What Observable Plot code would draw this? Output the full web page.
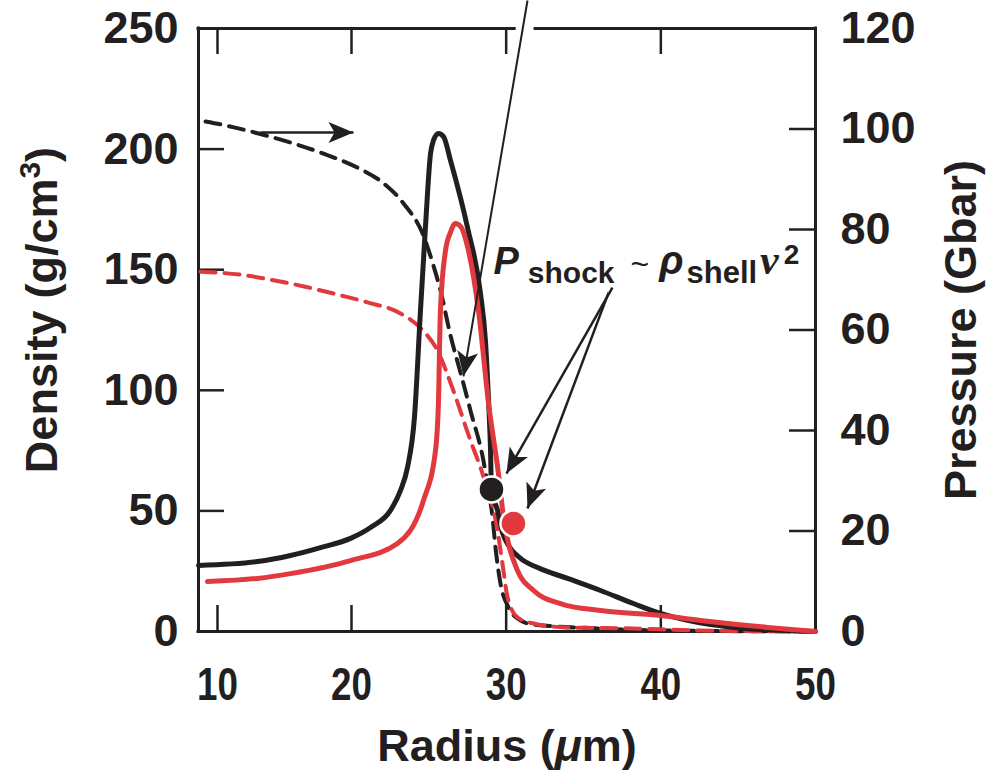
<!DOCTYPE html>
<html><head><meta charset="utf-8">
<script src="https://cdn.jsdelivr.net/npm/d3@7"></script>
<script src="https://cdn.jsdelivr.net/npm/@observablehq/plot@0.6"></script>
<style>
body{margin:0;background:#fff;}
</style></head><body><div id="chart"></div>
<script>
// ---------- data ----------
const radiusTicks = [10, 20, 30, 40, 50];
const topTicks = [10, 20, 30, 40];
const densityTicks = [0, 50, 100, 150, 200, 250];
const pressureTicks = [0, 20, 40, 60, 80, 100, 120];
const radiusBreaks = [8.6, 10, 20, 50];     // axis as drawn in the figure
const densityMax = 250, pressureMax = 120;

// Black: density (solid, left axis)
const blackDensityR = [8.6, 12.99, 15.45, 17.69, 19.93, 21.23, 22.52, 23.17, 23.62, 24.07, 24.46, 24.78, 25.11, 25.30, 25.62, 25.95, 26.40, 27.50, 28.34, 28.66, 28.86, 28.99, 29.05, 29.44, 29.76, 30.15, 30.93, 32.03, 33.97, 36.10, 38.23, 39.98, 41.72, 44.70, 50];
const blackDensityV = [27.4, 29.0, 31.5, 34.8, 38.6, 43.1, 50.2, 58.5, 68.0, 88.7, 133.1, 167.5, 198.2, 203.6, 206.5, 205.2, 195.3, 167.5, 140.1, 120.6, 95.8, 75.0, 58.9, 50.2, 41.0, 35.7, 30.3, 26.5, 22.0, 17.0, 11.6, 7.5, 4.6, 1.7, 0];
// Red: density (solid, left axis)
const redDensityR = [9.26, 12.99, 15.45, 19.93, 22.97, 24.65, 25.43, 25.62, 25.75, 26.08, 26.40, 26.72, 27.05, 27.56, 28.21, 28.86, 29.50, 29.83, 30.15, 30.73, 31.77, 33.51, 36.10, 39.98, 42.56, 46.90, 50];
const redDensityV = [20.7, 22.0, 24.0, 29.4, 36.5, 54.3, 75.0, 94.5, 133.1, 158.0, 165.5, 169.2, 168.0, 158.0, 133.1, 94.5, 65.5, 47.3, 36.5, 25.3, 17.0, 11.6, 8.7, 6.6, 4.6, 1.7, 0];
// Black: pressure (dashed, right axis, Gbar)
const blackPressureR = [9.12, 10.45, 13.21, 15.45, 17.91, 20.39, 22.07, 23.36, 24.65, 25.24, 25.75, 26.40, 27.05, 27.69, 28.53, 28.86, 29.12, 29.31, 29.63, 30.15, 30.93, 31.77, 36.10, 39.98, 50];
const blackPressureV = [101.5, 100.8, 99.0, 97.3, 95.1, 92.3, 89.2, 85.2, 78.8, 73.4, 67.9, 58.9, 51.5, 44.0, 34.0, 28.1, 22.7, 16.7, 9.6, 4.8, 2.2, 1.4, 0.6, 0.2, 0];
// Red: pressure (dashed, right axis, Gbar)
const redPressureR = [8.75, 11.72, 14.18, 16.72, 19.18, 21.03, 23.17, 24.46, 25.56, 26.59, 27.69, 28.47, 29.44, 29.76, 30.09, 30.73, 31.77, 33.97, 38.23, 42.56, 50];
const redPressureV = [71.6, 71.0, 69.9, 68.5, 66.9, 65.5, 63.3, 60.4, 55.9, 47.9, 38.0, 31.4, 20.1, 13.5, 6.8, 2.8, 1.6, 0.8, 0.6, 0.2, 0];

// Shock points (radius, density)
const shockR = [29.05, 30.47];
const shockDensity = [58.9, 44.8];
const shockColor = ["black", "red"];

// Annotation arrows (radius, density from -> to)
const arrowFromR = [36.87, 36.62, 31.38, 13.21];
const arrowFromY = [142.6, 140.5, 261.6, 206.9];
const arrowToR   = [30.02, 31.38, 27.24, 20.13];
const arrowToY   = [65.5, 51.0, 105.8, 206.9];
const arrowWidth = [2.5, 2.5, 2, 2.5];

const annotationText = "Pshock ~ ρshellν2";
const annotationR = 29.18, annotationDensity = 148.4;

// ---------- layout / style ----------
const BLACK = "#231f20", RED = "#e1393e";
const W = 994, H = 774;
const xRange = [198, 217, 351, 815];
const yRange = [631, 28];
const frameW = xRange[3] - xRange[0], frameH = yRange[0] - yRange[1];
const tickLen = 26;
const k = densityMax / pressureMax;

const zip = (xs, ys) => xs.map((x, i) => ({x, y: ys[i]}));
const blackDensity = zip(blackDensityR, blackDensityV);
const redDensity = zip(redDensityR, redDensityV);
const blackPressure = zip(blackPressureR, blackPressureV.map(p => p * k));
const redPressure = zip(redPressureR, redPressureV.map(p => p * k));
const shocks = shockR.map((x, i) => ({x, y: shockDensity[i], c: shockColor[i] === "red" ? RED : BLACK}));
const arrows = arrowFromR.map((x1, i) => ({x1, y1: arrowFromY[i], x2: arrowToR[i], y2: arrowToY[i], w: arrowWidth[i]}));
const frameTop = [{x1: radiusBreaks[0], x2: 30.55, y: densityMax}, {x1: 31.9, x2: 50, y: densityMax}];

const sx = d3.scaleLinear().domain(radiusBreaks).range(xRange);
const sy = d3.scaleLinear().domain([0, densityMax]).range(yRange);
const angle = d => Math.atan2(sx(d.x2) - sx(d.x1), -(sy(d.y2) - sy(d.y1))) * 180 / Math.PI;

const stealth = {draw(ctx) {
  const L = 25, Wd = 10.5, N = 6;
  ctx.moveTo(0, 0); ctx.lineTo(Wd, L); ctx.lineTo(0, L - N); ctx.lineTo(-Wd, L); ctx.closePath();
}};

const SANS = "'Liberation Sans', Arial, Helvetica, sans-serif";

const chart = Plot.plot({
  width: W, height: H,
  marginLeft: xRange[0], marginRight: W - xRange[3], marginTop: yRange[1], marginBottom: H - yRange[0],
  style: {fontFamily: SANS, fontWeight: "bold", background: "white", color: BLACK, overflow: "visible"},
  x: {type: "linear", domain: radiusBreaks, range: xRange},
  y: {type: "linear", domain: [0, densityMax], range: yRange},
  marks: [
    // frame
    Plot.ruleY([0], {stroke: BLACK, strokeWidth: 3, strokeLinecap: "square"}),
    Plot.ruleX([radiusBreaks[0], 50], {stroke: BLACK, strokeWidth: 3, strokeLinecap: "square"}),
    Plot.ruleY(frameTop, {x1: "x1", x2: "x2", y: "y", stroke: BLACK, strokeWidth: 3, strokeLinecap: "square"}),
    // inward ticks
    Plot.tickX(radiusTicks, {x: d => d, insetTop: frameH - tickLen, stroke: BLACK, strokeWidth: 2.5}),
    Plot.tickX(topTicks, {x: d => d, insetBottom: frameH - tickLen, stroke: BLACK, strokeWidth: 2.5}),
    Plot.tickY(densityTicks, {y: d => d, insetRight: frameW - tickLen, stroke: BLACK, strokeWidth: 2.5}),
    Plot.tickY(pressureTicks.map(p => p * k), {y: d => d, insetLeft: frameW - tickLen, stroke: BLACK, strokeWidth: 2.5}),
    // curves
    Plot.line(blackPressure, {x: "x", y: "y", stroke: BLACK, strokeWidth: 4, strokeDasharray: "15,9", curve: "monotone-x"}),
    Plot.line(redPressure, {x: "x", y: "y", stroke: RED, strokeWidth: 4, strokeDasharray: "15,9", curve: "monotone-x"}),
    Plot.line(blackDensity, {x: "x", y: "y", stroke: BLACK, strokeWidth: 5, curve: "monotone-x"}),
    Plot.line(redDensity, {x: "x", y: "y", stroke: RED, strokeWidth: 5, curve: "monotone-x"}),
    // shock points
    Plot.dot(shocks, {x: "x", y: "y", r: 13, fill: "c", stroke: "white", strokeWidth: 2.5}),
    // arrows
    Plot.link(arrows, {x1: "x1", y1: "y1", x2: "x2", y2: "y2", stroke: BLACK, strokeWidth: "w"}),
    Plot.dot(arrows, {x: "x2", y: "y2", symbol: stealth, rotate: angle, fill: BLACK, stroke: "none"}),
    // annotation
    Plot.text([annotationText], {x: () => annotationR, y: () => annotationDensity, text: d => d, textAnchor: "start", lineAnchor: "bottom", fontSize: 36, fill: BLACK, fontWeight: "bold"}),
    // axes tick labels
    Plot.axisX({anchor: "bottom", ticks: radiusTicks, tickSize: 0, tickPadding: 36, fontSize: 46, label: null, ariaLabel: "x-ticklabels"}),
    Plot.axisY({anchor: "left", ticks: densityTicks, tickSize: 0, tickPadding: 20, fontSize: 45, label: null}),
    Plot.axisY({anchor: "right", ticks: pressureTicks.map(p => p * k), tickFormat: d => String(Math.round(d / k)), tickSize: 0, tickPadding: 25, fontSize: 45, label: null}),
    // axis titles
    Plot.axisX({anchor: "bottom", ticks: [], tickSize: 0, label: "Radius (μm)", labelAnchor: "center", labelArrow: "none", labelOffset: 129, fontSize: 45}),
    Plot.axisY({anchor: "left", ticks: [], tickSize: 0, label: "Density (g/cm3)", labelAnchor: "center", labelArrow: "none", labelOffset: 173, fontSize: 45}),
    Plot.axisY({anchor: "right", ticks: [], tickSize: 0, label: "Pressure (Gbar)", labelAnchor: "center", labelArrow: "none", labelOffset: 160, fontSize: 45})
  ]
});

// rich-text touches (italics, sub/superscripts, condensed x tick labels)
const xTickTexts = new Set(radiusTicks.map(String));
chart.querySelectorAll("text").forEach(t => {
  const s = t.textContent;
  const tr = t.getAttribute("transform") || "";
  if (s === "Radius (μm)") t.innerHTML = 'Radius (<tspan font-style="italic">μ</tspan>m)';
  else if (s === "Density (g/cm3)") {
    t.innerHTML = 'Density<tspan dx="12">(g/cm</tspan><tspan font-size="30" dy="-17">3</tspan><tspan dy="17">)</tspan>';
    if (tr) t.setAttribute("transform", tr + " translate(20,0)");
  }
  else if (s === annotationText) t.innerHTML =
    '<tspan font-style="italic" font-size="38">P</tspan>' +
    '<tspan font-size="30" dy="9" dx="9">shock</tspan>' +
    '<tspan font-size="32" font-weight="normal" dy="-8" dx="16">~</tspan>' +
    '<tspan font-style="italic" font-size="40" dy="-1" dx="10">ρ</tspan>' +
    '<tspan font-size="31" dy="9" dx="3">shell</tspan>' +
    '<tspan font-family="Liberation Serif, serif" font-style="italic" font-size="42" dy="-9" dx="3">ν</tspan>' +
    '<tspan font-size="28" dy="-10" dx="5">2</tspan>';
});
chart.querySelectorAll('g[aria-label="x-ticklabels tick label"] text, g[aria-label="x-axis tick label"] text').forEach(t => {
  if (xTickTexts.has(t.textContent)) {
    const tr = t.getAttribute("transform") || "";
    t.setAttribute("transform", tr + " scale(0.8,1)");
  }
});
document.getElementById("chart").appendChild(chart);
</script>
</body></html>
